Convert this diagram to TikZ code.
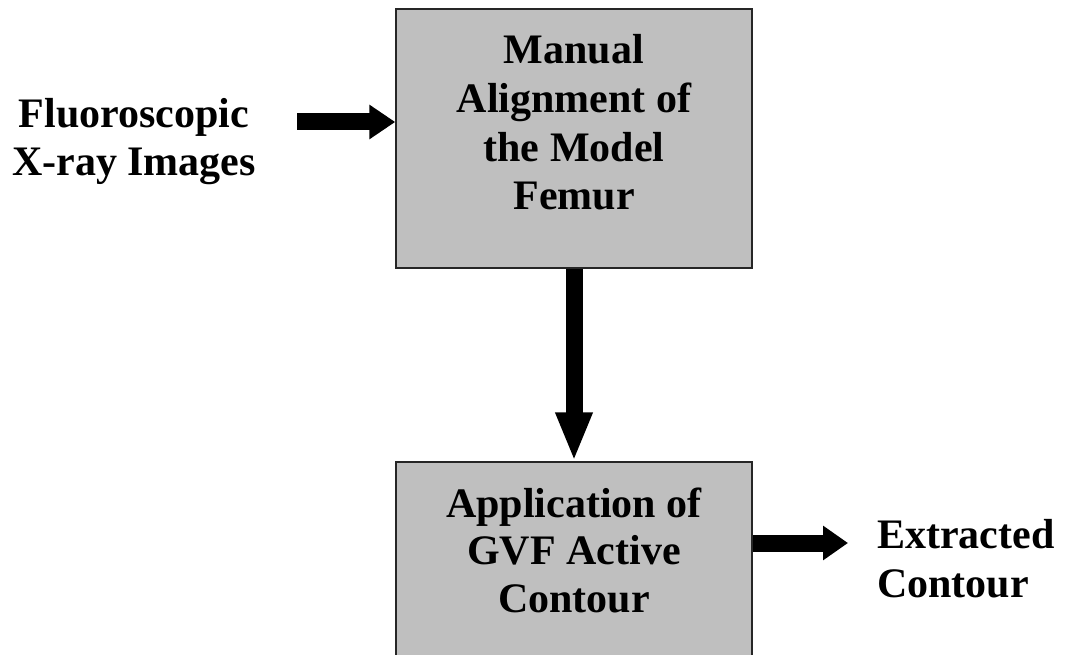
\documentclass[tikz,border=0pt]{standalone}
\usepackage{fontspec}
\setmainfont{Liberation Serif}
\usetikzlibrary{arrows.meta}

\begin{document}
\begin{tikzpicture}[x=1pt,y=-1pt,
  procbox/.style={draw=black!85,line width=1.5pt,fill=black!25,rectangle,inner sep=0pt},
  lbl/.style={inner sep=0pt,anchor=base,font=\fontsize{42}{48}\selectfont\bfseries},
  flow/.style={line width=17pt,-{Triangle[length=#1]}},
]
\useasboundingbox (0,0) rectangle (1065,655);
\clip (0,0) rectangle (1065,655);

% process boxes
\node[procbox,minimum width=356pt,minimum height=259pt] (b1) at (574,138.5) {};
\node[procbox,minimum width=356pt,minimum height=240pt] (b2) at (574,582) {};

% box texts (anchored at the baseline of the last line)
\node[lbl,align=center,font=\fontsize{42}{48.7}\selectfont\bfseries] (t1) at (574,210)
  {Manual\\Alignment of\\the Model\\Femur};
\node[lbl,align=center,font=\fontsize{42}{47.5}\selectfont\bfseries] (t2) at (574,612)
  {Application of\\GVF Active\\Contour};

% input and output labels
\node[lbl,align=center] (src-t) at (134,176)
  {Fluoroscopic\\X-ray Images};
\node[lbl,align=left,anchor=base west,font=\fontsize{42}{48.5}\selectfont\bfseries] (dst-t) at (877,597)
  {Extracted\\Contour};

% free arrow ends
\coordinate (src) at (297,122);
\coordinate (dst) at (848,543);

% connectors
\draw[flow={26pt,width=33pt}] (src) -- (src -| b1.west);
\draw[flow={49pt,width=34pt}] (b1.south) -- (b2.north);
\draw[flow={25pt,width=33pt}] (b2.east |- dst) -- (dst);
\end{tikzpicture}
\end{document}
